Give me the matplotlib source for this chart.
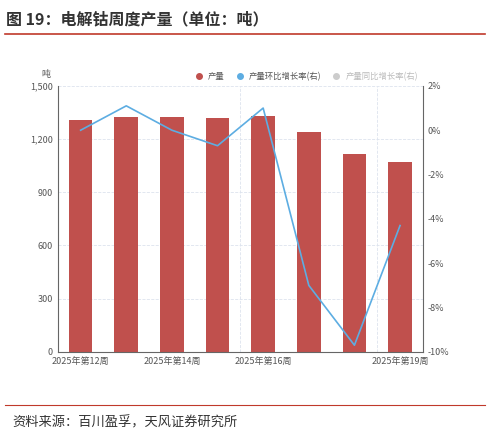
import matplotlib
matplotlib.use("Agg")
import matplotlib.pyplot as plt
from matplotlib.lines import Line2D
import numpy as np

plt.rcParams['font.family'] = ['Noto Sans CJK SC', 'DejaVu Sans']

weeks = ["2025年第12周","2025年第13周","2025年第14周","2025年第15周","2025年第16周","2025年第17周","2025年第18周","2025年第19周"]
output = [1310, 1325, 1325, 1318, 1330, 1238, 1118, 1070]
mom = [0.0, 1.1, 0.0, -0.7, 1.0, -7.0, -9.7, -4.3]
shown_labels = {0: "2025年第12周", 2: "2025年第14周", 4: "2025年第16周", 7: "2025年第19周"}

fig = plt.figure(figsize=(4.90, 4.36), dpi=100)
fig.text(0.012, 0.955, "图 19：电解钴周度产量（单位：吨）", fontsize=11.5, fontweight='bold', color='#333333', va='center')
fig.add_artist(Line2D([0.01, 0.99], [0.922, 0.922], color='#C0392B', lw=1.2))
fig.add_artist(Line2D([0.01, 0.99], [0.072, 0.072], color='#C0392B', lw=0.8))
fig.text(0.025, 0.03, "资料来源：百川盈孚，天风证券研究所", fontsize=9.5, color='#333333', va='center')

ax = fig.add_axes([0.118, 0.193, 0.745, 0.61])
x = np.arange(len(weeks))
ax.bar(x, output, width=0.52, color='#C0504D', label='产量', zorder=2)
ax.set_ylim(0, 1500)
ax.set_yticks([0, 300, 600, 900, 1200, 1500])
ax.set_yticklabels(["0", "300", "600", "900", "1,200", "1,500"])
ax.set_xlim(-0.5, len(weeks) - 0.5)
ax.set_xticks(list(shown_labels.keys()))
ax.set_xticklabels(list(shown_labels.values()))
for sp in ['top', 'right']:
    ax.spines[sp].set_visible(False)
ax.spines['left'].set_color('#666666')
ax.spines['bottom'].set_color('#666666')
ax.tick_params(axis='both', labelsize=6.5, colors='#555555', length=0)
ax.grid(axis='y', color='#dde3ee', ls='--', lw=0.6, zorder=0)
for v in [3.5, 6.5]:
    ax.axvline(v, color='#dde3ee', ls='--', lw=0.6, zorder=0)
ax.text(-0.02, 1.035, "吨", transform=ax.transAxes, fontsize=6.5, color='#555555', ha='right')

ax2 = ax.twinx()
ax2.plot(x, mom, color='#5DADE2', lw=1.2, zorder=3)
ax2.set_ylim(-10, 2)
ax2.set_yticks(range(-10, 3, 2))
ax2.set_yticklabels([f"{v}%" for v in range(-10, 3, 2)])
for sp in ['top', 'left', 'bottom']:
    ax2.spines[sp].set_visible(False)
ax2.spines['right'].set_color('#666666')
ax2.tick_params(axis='y', labelsize=6.5, colors='#555555', length=0)

handles = [
    Line2D([], [], marker='o', ls='', color='#C0504D', markersize=4),
    Line2D([], [], marker='o', ls='', color='#5DADE2', markersize=4),
    Line2D([], [], marker='o', ls='', color='#cccccc', markersize=4),
]
leg = ax.legend(handles, ['产量', '产量环比增长率(右)', '产量同比增长率(右)'], loc='lower right',
                bbox_to_anchor=(1.0, 1.0), ncol=3, frameon=False, fontsize=6,
                handletextpad=0.1, columnspacing=0.8, borderaxespad=0.2)
for t, c in zip(leg.get_texts(), ['#555555', '#555555', '#bbbbbb']):
    t.set_color(c)

fig.savefig("out.png", dpi=100)
